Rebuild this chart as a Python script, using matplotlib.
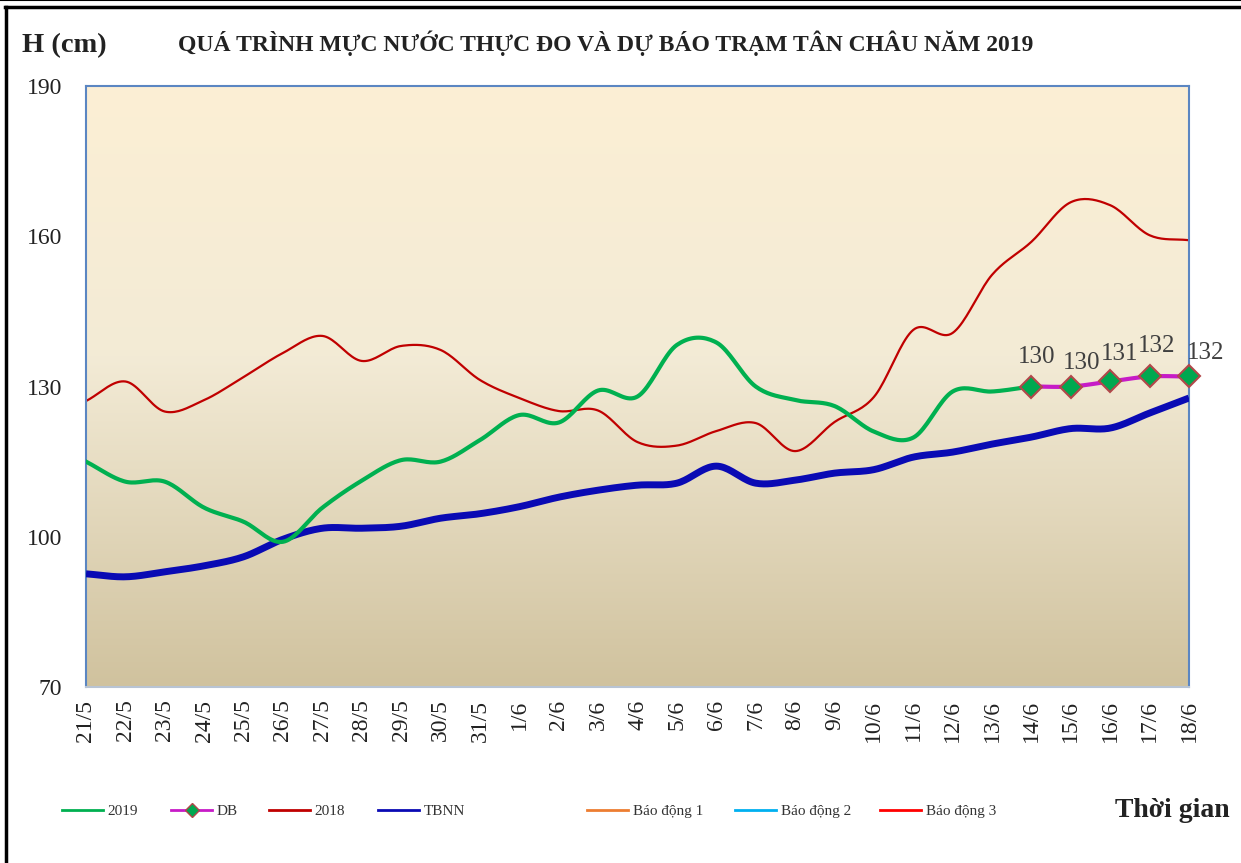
import numpy as np
import matplotlib.pyplot as plt
from matplotlib.lines import Line2D

plt.rcParams['font.family'] = ['Liberation Serif', 'DejaVu Serif']

# ngày quan trắc
ngay = ['21/5', '22/5', '23/5', '24/5', '25/5', '26/5', '27/5', '28/5', '29/5', '30/5',
        '31/5', '1/6', '2/6', '3/6', '4/6', '5/6', '6/6', '7/6', '8/6', '9/6',
        '10/6', '11/6', '12/6', '13/6', '14/6', '15/6', '16/6', '17/6', '18/6']

# mực nước thực đo 2019 (đến 14/6)
h2019 = [115, 111, 111, 105.8, 103, 99, 105.8, 111.2, 115.3, 115, 119.3, 124.3, 122.8,
         129.2, 128, 138.3, 138.8, 130, 127.3, 126.1, 121, 119.8, 129, 129, 130]
# dự báo 14/6 -> 18/6
db = [130, 130, 131, 132, 132]
# năm 2018
h2018 = [127.1, 131, 125, 127.3, 131.9, 136.7, 140.1, 135.1, 138.1, 137.3, 131.3, 127.7,
         125.1, 125.2, 118.9, 118.2, 121.1, 122.7, 117.1, 122.9, 127.9, 141.3, 140.7,
         152.3, 158.9, 166.8, 166.2, 160.2, 159.2]
# trung bình nhiều năm
tbnn = [92.6, 92, 93, 94.2, 96, 99.5, 101.7, 101.7, 102.1, 103.7, 104.6, 106, 107.9,
        109.3, 110.3, 110.7, 114.1, 110.7, 111.3, 112.7, 113.4, 115.9, 116.9, 118.5,
        119.9, 121.6, 121.7, 124.7, 127.7]
# mức báo động (ngoài khung hình)
bd1, bd2, bd3 = 350, 400, 450


def muot(x, y, n=20):
    # đường cong trơn kiểu Excel (Catmull-Rom)
    x = np.asarray(x, float)
    y = np.asarray(y, float)
    xp = np.r_[2*x[0]-x[1], x, 2*x[-1]-x[-2]]
    yp = np.r_[2*y[0]-y[1], y, 2*y[-1]-y[-2]]
    xs, ys = [], []
    t = np.linspace(0, 1, n, endpoint=False)
    for i in range(1, len(xp)-2):
        for p, out in ((xp, xs), (yp, ys)):
            p0, p1, p2, p3 = p[i-1], p[i], p[i+1], p[i+2]
            out.extend(0.5*((2*p1) + (-p0+p2)*t + (2*p0-5*p1+4*p2-p3)*t**2
                            + (-p0+3*p1-3*p2+p3)*t**3))
    xs.append(x[-1])
    ys.append(y[-1])
    return xs, ys


W, H = 1241, 863
fig = plt.figure(figsize=(W/100, H/100), dpi=100)
ax = fig.add_axes([86/W, 1-687/H, (1189-86)/W, (687-86)/H])

# nền chuyển màu
c_top = np.array([252, 239, 212]) / 255
c_mid = np.array([243, 235, 214]) / 255
c_bot = np.array([208, 194, 158]) / 255
s = np.linspace(0, 1, 256)[:, None]
grad = np.where(s < 0.45, c_top + (c_mid - c_top) * (s / 0.45),
                c_mid + (c_bot - c_mid) * ((s - 0.45) / 0.55))
ax.imshow(grad[:, None, :], aspect='auto', extent=[0, 1, 0, 1],
          transform=ax.transAxes, zorder=0)

x = np.arange(len(ngay))
i0 = len(h2019) - 1

ax.plot(*muot(x, h2018), color='#C00000', lw=1.6, zorder=2)
ax.plot(*muot(x, tbnn), color='#0A0AB4', lw=5, zorder=3, solid_capstyle='butt')
ax.plot(*muot(x[:len(h2019)], h2019), color='#00B050', lw=3, zorder=4)
ax.plot(*muot(x[i0:], db), color='#C71BC7', lw=3, zorder=5)
ax.plot(x[i0:], db, ls='none', marker='D', ms=11, mfc='#00A850',
        mec='#B2474A', mew=1.5, zorder=6, clip_on=False)
for k in (bd1, bd2, bd3):
    ax.plot(x, [k] * len(x), lw=2)

off = [(4, 21), (8, 17), (7, 20), (5, 22), (12, 17)]
for xi, v, o in zip(x[i0:], db, off):
    ax.annotate(f'{v:g}', (xi, v), xytext=o, textcoords='offset points',
                ha='center', va='center', fontsize=18, color='#404040', zorder=7,
                annotation_clip=False)

ax.set_xlim(0, len(ngay) - 1)
ax.set_ylim(70, 190)
ax.set_yticks([70, 100, 130, 160, 190])
ax.set_xticks(x)
ax.set_xticklabels(ngay, rotation=90)
ax.tick_params(axis='both', length=0, labelsize=17, colors='#222222')
ax.tick_params(axis='y', pad=17)
ax.tick_params(axis='x', pad=9)
for sp in ax.spines.values():
    sp.set_color('#5B86C2')
    sp.set_linewidth(1.5)
ax.spines['bottom'].set_color('#B8C4D4')

fig.text(22/W, 1-46/H, 'H (cm)', fontsize=20.5, fontweight='bold', va='center', color='#222222')
fig.text(606/W, 1-43/H, 'QUÁ TRÌNH MỰC NƯỚC THỰC ĐO VÀ DỰ BÁO TRẠM TÂN CHÂU NĂM 2019',
         fontsize=17, fontweight='bold', ha='center', va='center', color='#222222')
fig.text(1230/W, 1-810/H, 'Thời gian', fontsize=20, fontweight='bold',
         ha='right', va='center', color='#222222')

# chú thích
muc = [('2019', '#00B050', None, 62), ('DB', '#C71BC7', 'D', 171),
       ('2018', '#C00000', None, 269), ('TBNN', '#0A0AB4', None, 378),
       ('Báo động 1', '#ED7D31', None, 587), ('Báo động 2', '#00B0F0', None, 735),
       ('Báo động 3', '#FF0000', None, 880)]
for ten, mau, mk, xl in muc:
    h = Line2D([], [], color=mau, lw=2, marker=mk, ms=7, mfc='#00A850', mec='#B2474A')
    fig.legend(handles=[h], labels=[ten], loc='center left',
               bbox_to_anchor=(xl/W, 1-811/H), frameon=False, fontsize=11,
               handlelength=2.7, handletextpad=0.3, borderpad=0, borderaxespad=0,
               labelcolor='#333333')

# khung
fig.add_artist(Line2D([5/W, 1], [1-7/H, 1-7/H], color='black', lw=2.5))
fig.add_artist(Line2D([0, 1], [1-0.5/H, 1-0.5/H], color='black', lw=1.5))
fig.add_artist(Line2D([6/W, 6/W], [0, 1-7/H], color='black', lw=2.5))

fig.savefig('out.png', dpi=100)
